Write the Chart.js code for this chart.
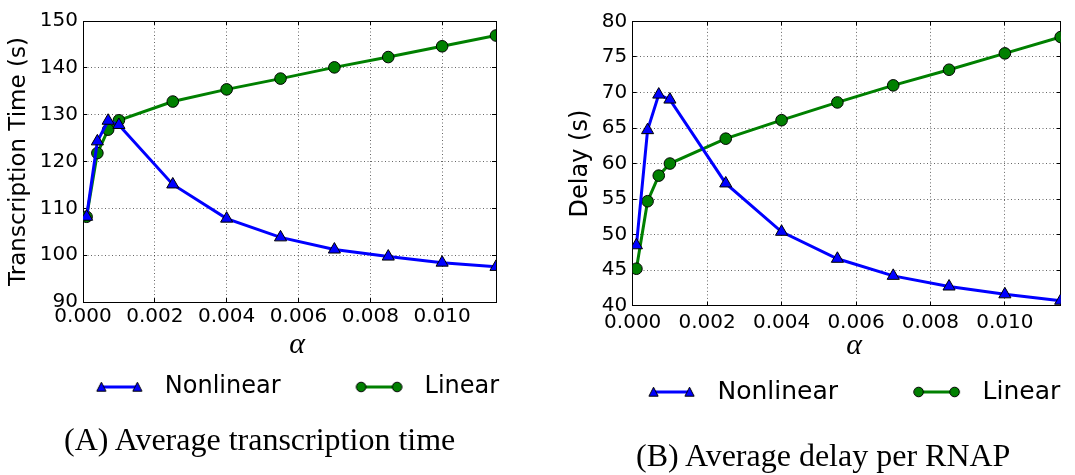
<!DOCTYPE html>
<html>
<head>
<meta charset="utf-8">
<title>Transcription time and delay vs alpha</title>
<script src="https://cdn.jsdelivr.net/npm/chart.js@4.4.1/dist/chart.umd.min.js"></script>
<style>
  body { margin: 0; background: #fff; width: 1075px; height: 475px; position: relative; overflow: hidden; }
  .box { position: absolute; top: 0; height: 475px; }
  .cap { position: absolute; font-family: "Liberation Serif", serif; font-size: 32px; line-height: 32px; white-space: nowrap; color: #000; }
</style>
</head>
<body>
<div class="box" style="left:0;width:530px"><canvas id="chartA"></canvas></div>
<div class="box" style="left:540px;width:535px"><canvas id="chartB"></canvas></div>
<div class="cap" style="left:64px;top:423px">(A) Average transcription time</div>
<div class="cap" style="left:636px;top:439px">(B) Average delay per RNAP</div>
<script>
// alpha (x) values, same for both plots
const alpha = [0.0001, 0.0004, 0.0007, 0.001, 0.0025, 0.004, 0.0055, 0.007, 0.0085, 0.01, 0.0115];

// (A) average transcription time, seconds
const timeNonlinear = [108.2, 124.3, 128.7, 127.8, 115.1, 107.8, 103.8, 101.2, 99.7, 98.4, 97.5];
const timeLinear = [108.2, 121.8, 126.8, 128.8, 132.8, 135.4, 137.7, 140.1, 142.3, 144.6, 146.9];

// (B) average delay per RNAP, seconds
const delayNonlinear = [48.5, 64.7, 69.7, 69.0, 57.2, 50.4, 46.6, 44.2, 42.7, 41.6, 40.7];
const delayLinear = [45.2, 54.7, 58.3, 60.0, 63.5, 66.1, 68.6, 71.0, 73.2, 75.5, 77.8];

const seriesNames = ['Nonlinear', 'Linear'];
const seriesColors = ['#0000ff', '#008000'];
const seriesMarkers = ['triangle', 'circle'];

Chart.defaults.font.family = 'DejaVu Sans';
Chart.defaults.color = '#000';

const gridColor = 'rgba(0,0,0,0.6)';

// little line-with-two-markers picture for the legend (like matplotlib numpoints=2)
function legendIcon(color, shape) {
    const c = document.createElement('canvas');
    c.width = 122;
    c.height = 16;
    const g = c.getContext('2d');
    const xa = 70.5, xb = 106.5, y = 8;
    g.strokeStyle = color;
    g.lineWidth = 3;
    g.beginPath(); g.moveTo(xa, y); g.lineTo(xb, y); g.stroke();
    g.fillStyle = color;
    g.strokeStyle = '#000';
    g.lineWidth = 1;
    [xa, xb].forEach(x => {
        g.beginPath();
        if (shape === 'triangle') {
            g.moveTo(x, y - 4.8);
            g.lineTo(x - 4.6, y + 4.2);
            g.lineTo(x + 4.6, y + 4.2);
            g.closePath();
        } else {
            g.arc(x, y, 4.8, 0, Math.PI * 2);
        }
        g.fill();
        g.stroke();
    });
    return c;
}
const icons = seriesColors.map((col, i) => legendIcon(col, seriesMarkers[i]));

function makeSet(i, values) {
    return {
        label: seriesNames[i],
        data: alpha.map((a, k) => ({ x: a, y: values[k] })),
        borderColor: seriesColors[i],
        backgroundColor: seriesColors[i],
        borderWidth: 3,
        tension: 0,
        pointStyle: seriesMarkers[i],
        pointRadius: seriesMarkers[i] === 'triangle' ? 7 : 5.8,
        pointBackgroundColor: seriesColors[i],
        pointBorderColor: '#000',
        pointBorderWidth: 1
    };
}

// g = geometry numbers for one panel
function makeChart(id, nonlin, lin, yMin, yMax, yStep, yTitle, g) {
    const grid = { color: gridColor, lineWidth: 1, tickLength: -4, tickColor: '#000', tickWidth: 1 };
    const border = { display: true, color: '#000', width: 1, dash: [1, 2.5] };
    const frameGrid = { drawOnChartArea: false, tickLength: -4, tickColor: '#000', tickWidth: 1 };
    return new Chart(document.getElementById(id), {
        type: 'line',
        data: { datasets: [makeSet(0, nonlin), makeSet(1, lin)] },
        options: {
            responsive: true,
            maintainAspectRatio: false,
            animation: false,
            events: [],
            layout: { autoPadding: false, padding: { left: g.padLeft, right: 0, top: 0, bottom: g.padBottom } },
            scales: {
                x: {
                    type: 'linear', min: 0, max: 0.0115,
                    afterFit: s => { s.height = g.xHeight; },
                    ticks: { stepSize: 0.002, includeBounds: false, padding: g.xTickPad, autoSkip: false, maxRotation: 0,
                             font: { size: 20 }, callback: v => v.toFixed(3) },
                    grid: grid,
                    border: border,
                    title: { display: true, text: '\u2002\u03b1',
                             font: { family: 'Liberation Serif', style: 'italic', size: 30, lineHeight: 1 },
                             padding: { top: 0, bottom: g.alphaPad } }
                },
                y: {
                    min: yMin, max: yMax,
                    afterFit: s => { s.width = g.yWidth; },
                    ticks: { stepSize: yStep, padding: g.yTickPad, font: { size: 20 } },
                    grid: grid,
                    border: border,
                    title: { display: true, text: yTitle, font: { size: g.yTitleSize, lineHeight: 1 },
                             padding: { top: g.yTitlePad, bottom: 0 } }
                },
                // top + right axes only for the frame and inward ticks
                x2: {
                    type: 'linear', position: 'top', min: 0, max: 0.0115,
                    afterFit: s => { s.height = g.top; },
                    ticks: { display: false, stepSize: 0.002, includeBounds: false },
                    grid: frameGrid,
                    border: { display: true, color: '#000', width: 1 }
                },
                y2: {
                    position: 'right', min: yMin, max: yMax,
                    afterFit: s => { s.width = g.right; },
                    ticks: { display: false, stepSize: yStep },
                    grid: frameGrid,
                    border: { display: true, color: '#000', width: 1 }
                }
            },
            plugins: {
                tooltip: { enabled: false },
                legend: {
                    position: 'bottom',
                    labels: {
                        usePointStyle: true,
                        pointStyleWidth: 122,
                        padding: 10,
                        font: { size: g.legendSize },
                        color: '#000',
                        generateLabels: chart => chart.data.datasets.map((ds, i) => ({
                            text: ds.label,
                            pointStyle: icons[i],
                            fillStyle: seriesColors[i],
                            strokeStyle: '#000',
                            lineWidth: 0,
                            hidden: false,
                            datasetIndex: i
                        }))
                    }
                }
            }
        }
    });
}

makeChart('chartA', timeNonlinear, timeLinear, 90, 150, 10, 'Transcription Time (s)', {
    padLeft: 0, padBottom: 66, top: 18, right: 34, xHeight: 63, yWidth: 83,
    xTickPad: 7, yTickPad: 9, alphaPad: 5, yTitleSize: 23, yTitlePad: 8, legendSize: 24
});

makeChart('chartB', delayNonlinear, delayLinear, 40, 80, 5, 'Delay (s)', {
    padLeft: 28.3, padBottom: 60.5, top: 14.3, right: 14.3, xHeight: 63.8, yWidth: 64.4,
    xTickPad: 8.8, yTickPad: 9.4, alphaPad: 8.5, yTitleSize: 24, yTitlePad: 0.5, legendSize: 25
});
</script>
</body>
</html>
